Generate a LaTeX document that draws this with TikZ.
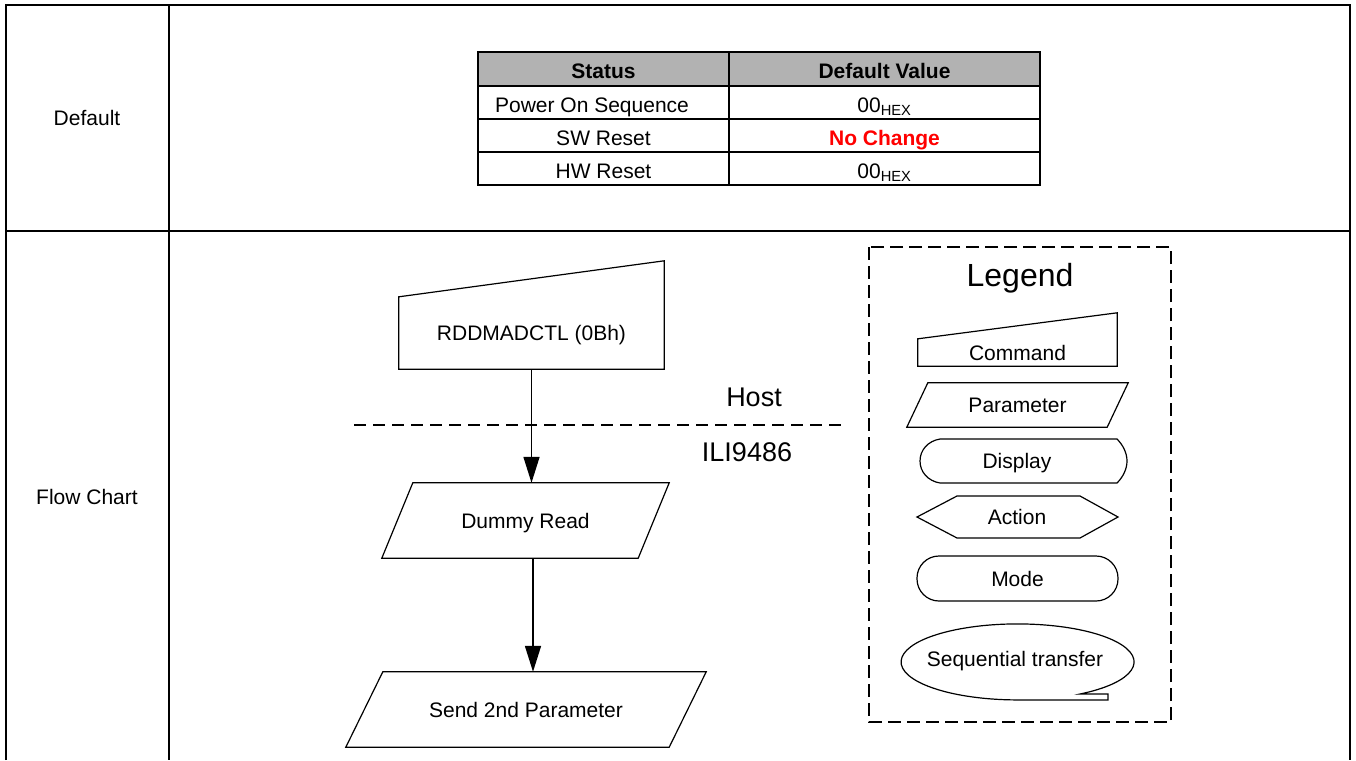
\documentclass[tikz,border=0pt]{standalone}
\usepackage{fontspec}
\setmainfont{Liberation Sans}
\usetikzlibrary{arrows.meta}
\definecolor{headGray}{RGB}{178,178,178}
\definecolor{noChangeRed}{RGB}{255,0,0}

\begin{document}
\begin{tikzpicture}[x=1pt, y=-1pt,
  outer/.style={line width=2.4pt},
  tablerule/.style={line width=1.6pt},
  txt/.style={font=\fontsize{21}{25}\selectfont, inner sep=0pt, text height=15pt, text depth=0pt},
  big/.style={font=\fontsize{27}{31}\selectfont, inner sep=0pt, text height=19.4pt, text depth=0pt},
  shp/.style={line width=1.2pt},
  box/.style={rectangle, inner sep=0pt, font=\fontsize{21}{25}\selectfont, text height=15pt, text depth=0pt},
  arrow/.style={-{Triangle[length=26pt,width=16pt]}, line width=1.6pt},
  sep/.style={line width=1.2pt, dash pattern=on 12pt off 7pt},
  legendbox/.style={line width=1.8pt, dash pattern=on 13pt off 6pt}
]
\useasboundingbox (0,0) rectangle (1356,760);

\draw[outer] (6,760) -- (6,5) -- (1350,5) -- (1350,760);
\draw[outer] (169,5) -- (169,760);
\draw[outer] (6,231) -- (1350,231);
\node[txt] (rowdef) at (87,118) {Default};
\node[txt] (rowflow) at (87,497) {Flow Chart};

\fill[headGray] (478,52) rectangle (1040,86);
\draw[tablerule] (478,52) rectangle (1040,185);
\draw[tablerule] (478,86) -- (1040,86);
\draw[tablerule] (478,119) -- (1040,119);
\draw[tablerule] (478,152) -- (1040,152);
\draw[tablerule] (729,52) -- (729,185);
\node[txt] (hstatus) at (603.5,71) {\bfseries Status};
\node[txt] (hvalue) at (884.5,71) {\bfseries Default Value};
\node[txt] (spower) at (592,105) {Power On Sequence};
\node[txt] (sswrst) at (603.5,138) {SW Reset};
\node[txt] (shwrst) at (603.5,171) {HW Reset};
\node[txt] (vpower) at (884.5,105) {00\textsubscript{HEX}};
\node[txt, text=noChangeRed] (vswrst) at (884.5,138) {\bfseries No Change};
\node[txt] (vhwrst) at (884.5,171) {00\textsubscript{HEX}};

\node[box, minimum width=265pt, minimum height=72pt] (cmd) at (531.5,333) {RDDMADCTL (0Bh)};
\draw[shp] (cmd.south west) -- (cmd.north west) -- ([yshift=36pt]cmd.north east) -- (cmd.south east) -- cycle;
\node[box, minimum width=256pt, minimum height=75pt] (dummy) at (525.5,520.5) {Dummy Read};
\draw[shp] ([xshift=15.5pt]dummy.north west) -- ([xshift=15.5pt]dummy.north east)
  -- ([xshift=-15.5pt]dummy.south east) -- ([xshift=-15.5pt]dummy.south west) -- cycle;
\node[box, minimum width=323pt, minimum height=75pt] (send) at (526,709.5) {Send 2nd Parameter};
\draw[shp] ([xshift=18.5pt]send.north west) -- ([xshift=18.5pt]send.north east)
  -- ([xshift=-18.5pt]send.south east) -- ([xshift=-18.5pt]send.south west) -- cycle;

\draw[arrow] (cmd.south) -- (cmd.south |- dummy.north);
\draw[arrow] ([xshift=7.5pt]dummy.south) -- ([xshift=7.5pt]dummy.south |- send.north);

\draw[sep] (354,425) -- (843,425);
\node[big] (host) at (754,397) {Host};
\node[big] (chip) at (747,452) {ILI9486};

\draw[legendbox] (869,247) rectangle (1171,722);
\node[font=\fontsize{32}{36}\selectfont, inner sep=0pt, text height=23pt, text depth=0pt] (legend) at (1020,275) {Legend};

\node[box, minimum width=199pt, minimum height=27pt] (lcmd) at (1017.5,352.5) {Command};
\draw[shp] (lcmd.south west) -- (lcmd.north west) -- ([yshift=26pt]lcmd.north east) -- (lcmd.south east) -- cycle;

\node[box, minimum width=200pt, minimum height=44pt] (lpar) at (1017.5,405) {Parameter};
\draw[shp] ([xshift=10.5pt]lpar.north west) -- ([xshift=10.5pt]lpar.north east)
  -- ([xshift=-10.5pt]lpar.south east) -- ([xshift=-10.5pt]lpar.south west) -- cycle;

\node[box] (ldisp) at (1017,461) {Display};
\draw[shp] (940,439) -- (1117,439) .. controls (1123,445) and (1127,453) .. (1127,461)
  .. controls (1127,469) and (1123,477) .. (1117,483) -- (940,483)
  .. controls (928,481) and (920,472) .. (920,461) .. controls (920,450) and (928,441) .. cycle;

\node[box] (lact) at (1017,517) {Action};
\draw[shp] (917,517) -- (957,496) -- (1080,496) -- (1118,517) -- (1080,538) -- (957,538) -- cycle;

\node[box, draw, line width=1.2pt, rounded corners=22pt, minimum width=201pt, minimum height=45pt] (lmode) at (1017.5,578.5) {Mode};

\node[box] (lseq) at (1015,659) {Sequential transfer};
\draw[shp] (1080,694) arc[start angle=57.6, end angle=-270, x radius=116.5, y radius=38]
  -- (1108,700) -- (1108,694) -- cycle;
\end{tikzpicture}
\end{document}
